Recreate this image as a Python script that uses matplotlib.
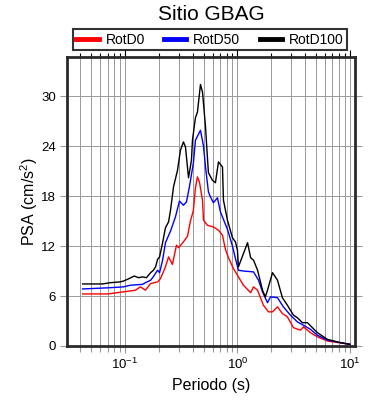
import matplotlib
matplotlib.use('Agg')
import matplotlib.pyplot as plt
from matplotlib.ticker import LogLocator, NullFormatter, FixedLocator

plt.rcParams['font.family'] = ['Liberation Sans', 'DejaVu Sans']
plt.rcParams['mathtext.fontset'] = 'custom'
plt.rcParams['mathtext.rm'] = 'Liberation Sans'
plt.rcParams['mathtext.it'] = 'Liberation Sans:italic'

# data (period in s, PSA in cm/s2)
t_d0 = [0.042, 0.070, 0.097, 0.124, 0.137, 0.152, 0.169, 0.195, 0.207, 0.229,
        0.244, 0.264, 0.287, 0.299, 0.331, 0.360, 0.382, 0.406, 0.423, 0.441,
        0.459, 0.489, 0.499, 0.541, 0.612, 0.678, 0.736, 0.782, 0.832, 0.921,
        1.02, 1.13, 1.31, 1.39, 1.51, 1.70, 1.89, 2.05, 2.27, 2.51, 2.78, 3.15,
        3.63, 3.86, 4.46, 5.14, 6.31, 10.0]
psa_d0 = [6.25, 6.25, 6.5, 6.7, 7.1, 6.7, 7.5, 7.7, 8.1, 9.5,
          10.7, 9.8, 12.1, 11.8, 12.5, 13.2, 15.0, 16.3, 19.0, 20.3,
          19.7, 17.5, 15.1, 14.5, 14.3, 13.9, 13.3, 11.6, 10.6, 9.3,
          8.3, 7.3, 6.4, 7.1, 6.7, 4.9, 4.1, 4.1, 4.7, 3.9, 3.5, 2.2,
          1.9, 2.3, 1.6, 1.1, 0.6, 0.2]

t_d50 = [0.042, 0.074, 0.097, 0.112, 0.143, 0.152, 0.169, 0.176, 0.195, 0.203,
         0.216, 0.229, 0.254, 0.281, 0.305, 0.331, 0.352, 0.374, 0.406, 0.423,
         0.469, 0.499, 0.520, 0.552, 0.575, 0.612, 0.664, 0.706, 0.815, 0.903,
         0.960, 1.02, 1.13, 1.39, 1.54, 1.67, 1.85, 1.97, 2.27, 2.56, 2.96,
         3.41, 3.86, 4.46, 5.14, 6.31, 10.0]
psa_d50 = [6.85, 7.0, 7.1, 7.3, 7.4, 7.6, 7.9, 8.2, 9.1, 8.8,
           10.3, 12.4, 13.8, 15.5, 17.4, 16.9, 17.3, 19.1, 22.0, 24.7,
           25.9, 24.0, 21.5, 18.5, 17.9, 17.2, 17.8, 16.1, 14.0, 12.0,
           10.5, 9.1, 9.0, 8.9, 7.9, 6.5, 5.2, 5.9, 5.8, 4.7, 3.7,
           2.9, 2.5, 2.0, 1.3, 0.7, 0.2]

t_d100 = [0.042, 0.063, 0.074, 0.091, 0.097, 0.105, 0.121, 0.132, 0.143, 0.155,
          0.169, 0.179, 0.187, 0.195, 0.203, 0.216, 0.229, 0.244, 0.254, 0.270,
          0.293, 0.311, 0.331, 0.345, 0.367, 0.390, 0.398, 0.423, 0.441, 0.469,
          0.489, 0.520, 0.541, 0.552, 0.599, 0.637, 0.678, 0.736, 0.751, 0.815,
          0.903, 0.960, 1.0, 1.02, 1.23, 1.31, 1.39, 1.51, 1.67, 1.77, 1.85,
          2.05, 2.27, 2.51, 2.78, 3.15, 3.41, 3.78, 4.19, 4.64, 5.14, 6.31,
          8.24, 10.0]
psa_d100 = [7.45, 7.45, 7.6, 7.7, 7.8, 8.0, 8.4, 8.2, 8.3, 8.2,
            8.8, 9.1, 9.5, 10.4, 10.7, 12.4, 14.2, 14.9, 16.3, 19.1,
            21.1, 23.5, 24.5, 23.9, 20.2, 22.3, 24.7, 27.4, 28.1, 31.4,
            30.5, 26.3, 22.6, 20.8, 19.9, 19.6, 22.1, 21.5, 17.5, 15.1,
            13.0, 12.5, 11.5, 9.5, 12.4, 10.6, 10.3, 9.1, 6.7, 5.9, 6.7,
            8.8, 7.9, 5.8, 4.9, 3.7, 3.4, 2.8, 2.8, 2.2, 1.6, 0.8,
            0.4, 0.2]

y_ticks = [0, 6, 12, 18, 24, 30]

fig = plt.figure(figsize=(3.9, 4.0), dpi=100)
ax = fig.add_axes([67/390, 1-346/400, 288/390, 289/400])

ax.plot(t_d0, psa_d0, color='red', lw=1.0, label='RotD0')
ax.plot(t_d50, psa_d50, color='blue', lw=1.0, label='RotD50')
ax.plot(t_d100, psa_d100, color='black', lw=1.0, label='RotD100')

ax.set_xscale('log')
ax.set_xlim(0.0305, 11.1)
ax.set_ylim(0, 34.7)
ax.yaxis.set_major_locator(FixedLocator(y_ticks))
ax.xaxis.set_major_locator(LogLocator(base=10))
ax.xaxis.set_minor_locator(LogLocator(base=10, subs=range(2, 10)))
ax.xaxis.set_minor_formatter(NullFormatter())

ax.grid(True, which='both', axis='x', color='#999999', lw=0.7)
ax.grid(True, which='major', axis='y', color='#999999', lw=0.7)

for s in ax.spines.values():
    s.set_linewidth(2.0)
    s.set_color('#2a2a2a')

ax.tick_params(which='both', direction='out', color='#999999', labelsize=9.5,
               right=True, pad=3)
ax.tick_params(which='major', length=5, width=0.8)
ax.tick_params(which='minor', length=4, width=0.8)

top = ax.secondary_xaxis('top')
top.xaxis.set_major_locator(LogLocator(base=10))
top.xaxis.set_minor_locator(LogLocator(base=10, subs=range(2, 10)))
top.xaxis.set_major_formatter(NullFormatter())
top.xaxis.set_minor_formatter(NullFormatter())
top.tick_params(which='major', direction='out', length=5, width=0.8, color='black')
top.tick_params(which='minor', direction='out', length=3, width=0.8, color='black')
top.spines['top'].set_visible(False)

ax.set_xlabel('Periodo (s)', fontsize=11.5, labelpad=4)
ax.set_ylabel('PSA (cm/s$^2$)', fontsize=11.5, labelpad=1)
fig.text(211/390, 1-14/400, 'Sitio GBAG', fontsize=15, ha='center', va='center')

leg = fig.legend(loc='lower left', ncol=3, mode='expand',
                 bbox_to_anchor=(73/390, 1-50/400, 274/390, 22/400),
                 fontsize=10, frameon=True, fancybox=False, handlelength=1.6,
                 handletextpad=0.5, borderpad=0.25, borderaxespad=0)
leg.get_frame().set_edgecolor('black')
leg.get_frame().set_linewidth(1.5)
for h in leg.legend_handles:
    h.set_linewidth(3.5)

plt.savefig('out.png', dpi=100)
